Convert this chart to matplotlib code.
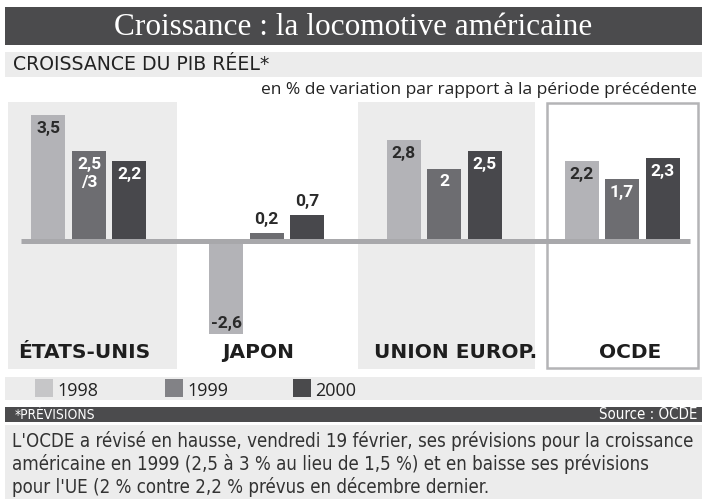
import matplotlib
matplotlib.use("Agg")
import matplotlib.pyplot as plt
from matplotlib.patches import Rectangle
from matplotlib import font_manager as fm
from matplotlib.font_manager import FontProperties

# ---------------- data ----------------
regions = ["ÉTATS-UNIS", "JAPON", "UNION EUROP.", "OCDE"]
years = ["1998", "1999", "2000"]
v1998 = [3.5, -2.6, 2.8, 2.2]
v1999 = [2.5, 0.2, 2.0, 1.7]
v2000 = [2.2, 0.7, 2.5, 2.3]
label_suffix_1999 = ["/3", "", "", ""]   # US 1999 forecast range "2,5 /3"

title = "Croissance : la locomotive américaine"
subtitle = "CROISSANCE DU PIB RÉEL*"
unit_note = "en % de variation par rapport à la période précédente"
footnote = "*PRÉVISIONS"
source = "Source : OCDE"
paragraph = [
    "L'OCDE a révisé en hausse, vendredi 19 février, ses prévisions pour la croissance",
    "américaine en 1999 (2,5 à 3 % au lieu de 1,5 %) et en baisse ses prévisions",
    "pour l'UE (2 % contre 2,2 % prévus en décembre dernier.",
]

# ---------------- fonts ----------------
names = {f.name for f in fm.fontManager.ttflist}

def pick(*cands, default="DejaVu Sans"):
    for c in cands:
        if c in names:
            return c
    return default

SANS = pick("Open Sans", "Noto Sans")
SERIF = pick("Liberation Serif", "DejaVu Serif", default="DejaVu Serif")
VAL = pick("Roboto", "Liberation Sans")

narrow_fp = None
for f in fm.fontManager.ttflist:
    nm = f.name.lower()
    st = str(f.stretch).lower()
    if ("narrow" in nm or "condensed" in nm or "condensed" in st) and str(f.weight) in ("400", "normal", "regular") and f.style == "normal":
        narrow_fp = FontProperties(fname=f.fname)
        break
if narrow_fp is None:
    narrow_fp = FontProperties(family=pick("Liberation Sans", "Roboto"))

# ---------------- style ----------------
bar_colors = ["#b3b3b7", "#6d6d71", "#48484c"]
legend_colors = ["#c6c6c8", "#828286", "#4a4a4c"]
inside_text = ["#2a2a2a", "white", "white"]
dark_band = "#4b4b4d"
light_band = "#ececec"

W, H = 702, 499
fig = plt.figure(figsize=(W / 100, H / 100), dpi=100)
fig.patch.set_facecolor("white")
renderer = fig.canvas.get_renderer()

deco = fig.add_axes([0, 0, 1, 1])
deco.set_xlim(0, W)
deco.set_ylim(H, 0)
deco.axis("off")

def rect(x0, y0, x1, y1, **kw):
    deco.add_patch(Rectangle((x0, y0), x1 - x0, y1 - y0, **kw))

def fit(t, target_w):
    w = t.get_window_extent(renderer).width
    t.set_fontsize(t.get_fontsize() * target_w / w)
    return t

def ntext(x, y, s, size, **kw):
    fp = narrow_fp.copy()
    fp.set_size(size)
    return deco.text(x, y, s, fontproperties=fp, **kw)

# title bar
rect(5, 7, 703, 45, facecolor=dark_band, edgecolor="none")
t = deco.text(353.5, 27, title, color="white", fontsize=21, family=SERIF,
              ha="center", va="center")
fit(t, 477)
# subtitle band
rect(5, 52, 703, 77, facecolor=light_band, edgecolor="none")
t = deco.text(13, 70, subtitle, color="#222222", fontsize=12, family="DejaVu Sans",
              ha="left", va="baseline")
fit(t, 256)
t = deco.text(697, 94, unit_note, color="#222222", fontsize=12, family=SANS,
              ha="right", va="baseline")
fit(t, 432)

# panels
rect(8, 102, 177, 369, facecolor=light_band, edgecolor="none")
rect(358, 102, 535, 369, facecolor=light_band, edgecolor="none")
rect(547, 103, 698, 368, facecolor="none", edgecolor="#b4b4b6", linewidth=1.8)

label_x = [84, 258, 456, 630]
for lx, name in zip(label_x, regions):
    deco.text(lx, 358, name, color="#1e1e1e", fontsize=14.5, family="DejaVu Sans",
              fontweight="bold", ha="center", va="baseline")

# legend band
rect(5, 377, 703, 400, facecolor=light_band, edgecolor="none")
leg_x = [35, 165, 293]
for lx, yr, c in zip(leg_x, years, legend_colors):
    rect(lx, 379, lx + 18, 397, facecolor=c, edgecolor="none")
    deco.text(lx + 22, 396, yr, color="#222222", fontsize=13, family=SANS,
              ha="left", va="baseline")

# footer bar
rect(5, 407, 703, 422, facecolor=dark_band, edgecolor="none")
t = ntext(15, 419, footnote, 9, color="white", ha="left", va="baseline")
fit(t, 80)
t = ntext(697, 419, source, 9, color="white", ha="right", va="baseline")
fit(t, 99)

# paragraph
rect(5, 425, 703, 499, facecolor=light_band, edgecolor="none")
for k, line in enumerate(paragraph):
    t = ntext(12, 447 + 23 * k, line, 14, color="#333333", ha="left",
              va="baseline")
    if k == 0:
        fit(t, 688)
        psize = t.get_fontsize()
    else:
        t.set_fontsize(psize)

# ---------------- bars (data axes) ----------------
ZERO_PX = 240.5
PX_PER_UNIT = 36.0
G0_PX = 89.0
G_STEP = 177.7
ax = fig.add_axes([0, 0, 1, 1])
ax.set_facecolor("none")
ax.set_xlim(-G0_PX / G_STEP, (W - G0_PX) / G_STEP)
ax.set_ylim(-(H - ZERO_PX) / PX_PER_UNIT, ZERO_PX / PX_PER_UNIT)
ax.axis("off")

bar_w = 34 / G_STEP
offset = 40.5 / G_STEP
series = [v1998, v1999, v2000]

def fmt(v):
    return ("%g" % v).replace(".", ",")

for j, vals in enumerate(series):
    xs = [i + (j - 1) * offset for i in range(len(regions))]
    ax.bar(xs, vals, width=bar_w, color=bar_colors[j], zorder=2)
    for i, (x, v) in enumerate(zip(xs, vals)):
        txt = fmt(v)
        if j == 1 and label_suffix_1999[i]:
            txt = txt + "\n" + label_suffix_1999[i]
        kw = dict(ha="center", fontsize=12.5, family=VAL, fontweight="bold",
                  textcoords="offset pixels", zorder=4)
        if v < 0:
            ax.annotate(txt, (x, v), xytext=(0, 11), va="center",
                        color="#2a2a2a", **kw)
        elif v < 1:
            ax.annotate(txt, (x, v), xytext=(0, 14), va="center",
                        color="#2a2a2a", **kw)
        else:
            ax.annotate(txt, (x, v), xytext=(0, -6),
                        va="top", color=inside_text[j], linespacing=1.3, **kw)

# zero baseline
ax.plot([-(G0_PX - 21) / G_STEP, (690 - G0_PX) / G_STEP], [0, 0],
        color="#a8a8ab", linewidth=3.6, solid_capstyle="butt", zorder=3)

fig.savefig("out.png", dpi=100, facecolor="white")
